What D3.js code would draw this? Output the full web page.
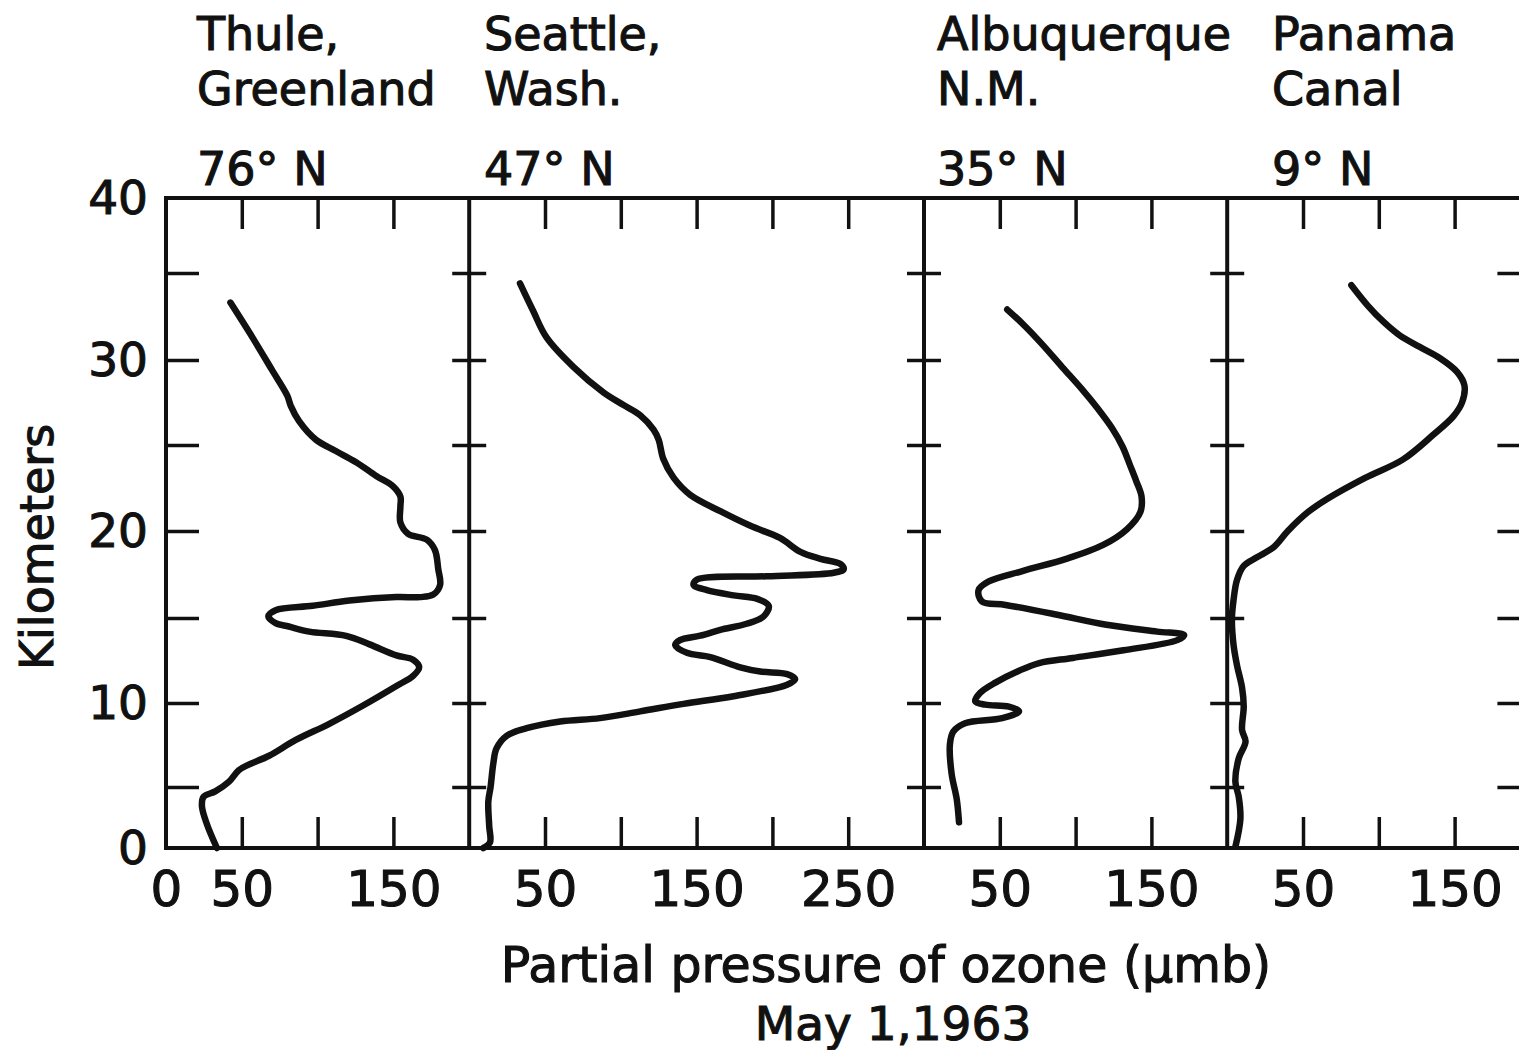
<!DOCTYPE html>
<html>
<head>
<meta charset="utf-8">
<script src="https://cdn.jsdelivr.net/npm/d3@7"></script>
<style>
body { margin: 0; background: #fff; }
svg { display: block; font-family: "DejaVu Sans", sans-serif; }
svg text { fill: #111; stroke: #111; stroke-width: 1.1px; }
.axis line { stroke: #111; stroke-width: 3.5; }
.axis text { font-family: "DejaVu Sans", sans-serif; }
</style>
</head>
<body>
<svg width="1519" height="1050"></svg>
<script>
// station headings (3 lines each)
var stations = [
	['Thule,', 'Greenland', '76° N'],
	['Seattle,', 'Wash.', '47° N'],
	['Albuquerque', 'N.M.', '35° N'],
	['Panama', 'Canal', '9° N']
];
var panelMax = [200, 300, 200, 200];
var xLabels = [[0, 50, 150], [50, 150, 250], [50, 150], [50, 150]];
var kmTicks = [5, 10, 15, 20, 25, 30, 35];
var kmLabels = [0, 10, 20, 30, 40];

// profiles: [partial pressure (umb), height (km)]
var thule = [[33.6,0],[27,1.95],[23.7,3.44],[24.8,4.2],[32.5,4.64],[41.4,5.3],[48,6.0],[54.6,6.33],[68,6.86],[85.6,7.8],[107.7,8.76],[130,9.85],[152,11.0],[163,11.6],[167,12.1],[163,12.55],[152,12.8],[134.3,13.45],[118.8,13.95],[94.5,14.2],[81,14.5],[72.3,14.7],[67.5,15.1],[72.3,15.45],[96.7,15.7],[121,16.0],[152,16.2],[167.5,16.2],[176.3,16.35],[180.8,16.9],[179.6,17.8],[177.4,18.9],[172,19.5],[159.7,19.84],[154.6,20.5],[154.6,21.4],[154.6,22.0],[149.8,22.6],[138.7,23.2],[125.4,24.0],[112,24.65],[99,25.3],[87.8,26.4],[82.3,27.3],[80,27.9],[70,29.4],[57,31.3],[42.5,33.3]];
var seattle = [[9.3,0],[13.7,0.45],[13.2,1.8],[12.6,3.8],[14.1,5],[15.9,6.4],[18,7.3],[24.7,8.05],[37.9,8.5],[60,8.9],[86.3,9.1],[112.8,9.5],[141.4,9.95],[174.4,10.4],[209.7,11.08],[215,11.4],[209.7,11.7],[192,11.85],[178.8,12.1],[159,12.7],[143.6,12.95],[135.9,13.4],[139,13.7],[152.4,13.96],[165.6,14.3],[183,14.66],[194.3,15.1],[197.6,15.7],[190,16.1],[174.4,16.3],[156.8,16.6],[148,16.9],[150,17.2],[196.5,17.4],[240.5,17.6],[247,17.8],[245,18.1],[231.7,18.4],[218.5,18.8],[205,19.6],[185.5,20.3],[165.6,21.15],[145.8,22.1],[134.8,23.1],[128,24.2],[125,25.3],[121.6,25.9],[112.8,26.75],[101.8,27.35],[88.5,28.1],[68.7,29.6],[51,31.3],[42.3,32.8],[33.5,34.4]];
var albuquerque = [[23.1,2.1],[21.6,4.0],[18.2,5.8],[17.1,7.55],[19.3,8.3],[27.1,8.8],[51.6,9.1],[62.7,9.5],[56,9.78],[40.4,9.9],[33.8,10.1],[37.1,10.6],[47.1,11.2],[62.7,11.9],[76,12.35],[98.2,12.65],[131.6,13.1],[167.1,13.7],[171.6,14.0],[153.8,14.2],[120.4,14.6],[87.1,15.2],[53.8,15.75],[38.2,15.95],[36,16.6],[42.7,17.1],[64.9,17.7],[93.8,18.4],[118.2,19.2],[133.8,20.1],[142.7,21.1],[143.5,22.0],[140,22.9],[136,23.8],[131,24.9],[124,26.0],[115,27.1],[104,28.3],[91,29.6],[78,30.9],[66,32.0],[54.9,32.9]];
var panama = [[5.4,0.1],[8.7,2.4],[7.6,4.2],[5.4,5.3],[7.6,6.7],[12.1,7.7],[9.8,8.4],[10.9,9.8],[9.8,10.9],[6.5,12.2],[4.2,13.4],[3.1,14.95],[4.2,16.05],[6.5,17.2],[10.9,18.0],[19.9,18.5],[31,19.1],[40,20],[53.3,21.1],[66.7,21.9],[91.3,23.1],[115.8,24.15],[135.9,25.6],[149.3,26.7],[154.9,27.5],[156.5,28.5],[151.6,29.3],[140.4,30.1],[127,30.75],[114,31.4],[103,32.2],[93,33.1],[81.9,34.3]];
var profiles = [thule, seattle, albuquerque, panama];

var svg = d3.select('svg');
var plotTop = 198, plotBottom = 848, plotLeft = 166;
var unit = 1.516; // px per umb, same in every panel
var headerX = [197, 484, 937, 1272];
var headerY = [50, 105, 185];

// the original axis is hand ruled, so the km ticks are not evenly spaced
var yScale = d3.scaleLinear()
	.domain([0, 5, 10, 15, 20, 25, 30, 35, 40])
	.range([848, 787, 703, 618, 531, 445, 360, 273, 198]);

// one x scale per panel, laid side by side
var xScales = [];
var left = plotLeft;
panelMax.forEach(function(max) {
	xScales.push(d3.scaleLinear().domain([0, max]).range([left, left + max * unit]));
	left += max * unit;
});
var plotRight = left;

var stripDomain = function(g) { g.select('.domain').remove(); };

xScales.forEach(function(x, i) {
	var inner = d3.range(50, panelMax[i], 50);

	svg.append('g').attr('class', 'axis')
		.attr('transform', 'translate(0,' + plotTop + ')')
		.call(d3.axisTop(x).tickValues(inner).tickSize(-31).tickFormat(''))
		.call(stripDomain);

	svg.append('g').attr('class', 'axis')
		.attr('transform', 'translate(0,' + plotBottom + ')')
		.call(d3.axisBottom(x).tickValues(inner).tickSize(-31).tickFormat(''))
		.call(stripDomain);

	svg.append('g').attr('class', 'axis')
		.attr('transform', 'translate(0,' + plotBottom + ')')
		.call(d3.axisBottom(x).tickValues(xLabels[i]).tickSize(0).tickPadding(22).tickFormat(d3.format('d')))
		.call(stripDomain)
		.selectAll('text').style('font-size', '50px');

	// km ticks on the left edge of each panel
	var x0 = x.range()[0];
	if (i === 0) {
		svg.append('g').attr('class', 'axis')
			.attr('transform', 'translate(' + x0 + ',0)')
			.call(d3.axisLeft(yScale).tickValues(kmTicks).tickSize(-33).tickFormat(''))
			.call(stripDomain);
	} else {
		svg.append('g').attr('class', 'axis')
			.attr('transform', 'translate(' + x0 + ',0)')
			.call(d3.axisLeft(yScale).tickValues(kmTicks).tickSize(17).tickFormat(''))
			.call(stripDomain);
		svg.append('g').attr('class', 'axis')
			.attr('transform', 'translate(' + x0 + ',0)')
			.call(d3.axisRight(yScale).tickValues(kmTicks).tickSize(17).tickFormat(''))
			.call(stripDomain);
	}

	// station heading
	stations[i].forEach(function(line, j) {
		svg.append('text')
			.attr('x', headerX[i])
			.attr('y', headerY[j])
			.style('font-size', '46px')
			.text(line);
	});

	// profile
	var line = d3.line()
		.x(d => x(d[0]))
		.y(d => yScale(d[1]))
		.curve(d3.curveCatmullRom.alpha(0.5));

	svg.append('path')
		.datum(profiles[i])
		.attr('d', line)
		.attr('fill', 'none')
		.attr('stroke', '#111')
		.attr('stroke-width', 6.5)
		.attr('stroke-linecap', 'round')
		.attr('stroke-linejoin', 'round');
});

// right frame ticks
svg.append('g').attr('class', 'axis')
	.attr('transform', 'translate(' + plotRight + ',0)')
	.call(d3.axisLeft(yScale).tickValues(kmTicks).tickSize(33).tickFormat(''))
	.call(stripDomain);

// km labels
svg.append('g').attr('class', 'axis')
	.attr('transform', 'translate(' + plotLeft + ',0)')
	.call(d3.axisLeft(yScale).tickValues(kmLabels).tickSize(0).tickPadding(18))
	.call(stripDomain)
	.selectAll('text').style('font-size', '47px');

// frame and panel dividers
svg.append('rect')
	.attr('x', plotLeft).attr('y', plotTop)
	.attr('width', plotRight - plotLeft).attr('height', plotBottom - plotTop)
	.attr('fill', 'none').attr('stroke', '#111').attr('stroke-width', 4);

svg.selectAll('.divider')
	.data(xScales.slice(1))
	.enter().append('line')
	.attr('class', 'divider')
	.attr('x1', d => d.range()[0]).attr('x2', d => d.range()[0])
	.attr('y1', plotTop).attr('y2', plotBottom)
	.attr('stroke', '#111').attr('stroke-width', 4);

// axis titles
svg.append('text')
	.attr('transform', 'translate(53,547) rotate(-90)')
	.attr('text-anchor', 'middle')
	.style('font-size', '46px')
	.text('Kilometers');

svg.append('text')
	.attr('x', 886).attr('y', 982)
	.attr('text-anchor', 'middle')
	.style('font-size', '49px')
	.text('Partial pressure of ozone (\u03bcmb)');

svg.append('text')
	.attr('x', 893).attr('y', 1040)
	.attr('text-anchor', 'middle')
	.style('font-size', '47px')
	.text('May 1,1963');
</script>
</body>
</html>
